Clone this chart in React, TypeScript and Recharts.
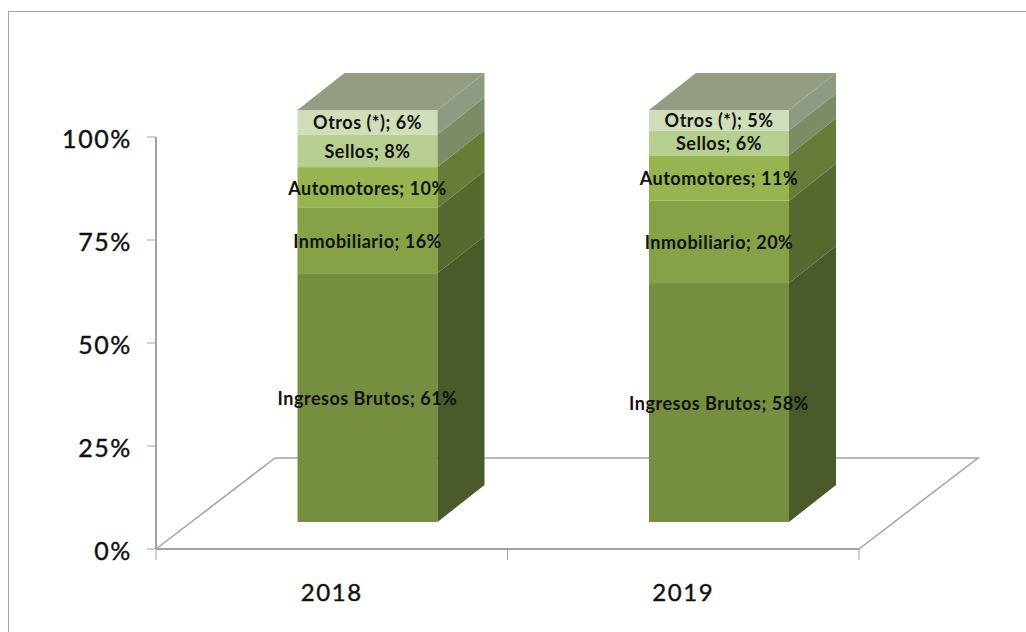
import React from 'react';
import { BarChart, Bar, XAxis, YAxis, LabelList, usePlotArea } from 'recharts';

const years = ['2018', '2019'];
const ingresos = [61, 58];
const inmobiliario = [16, 20];
const automotores = [10, 11];
const sellos = [8, 6];
const otros = [6, 5];
const yTicks = [0, 0.25, 0.5, 0.75, 1];

const data = years.map((year, i) => ({
  year,
  ingresos: ingresos[i],
  inmobiliario: inmobiliario[i],
  automotores: automotores[i],
  sellos: sellos[i],
  otros: otros[i],
}));

const series = [
  { key: 'ingresos', name: 'Ingresos Brutos', values: ingresos, front: '#768e40', side: '#4a5a2a' },
  { key: 'inmobiliario', name: 'Inmobiliario', values: inmobiliario, front: '#86a146', side: '#566a2f' },
  { key: 'automotores', name: 'Automotores', values: automotores, front: '#97b450', side: '#667c38' },
  { key: 'sellos', name: 'Sellos', values: sellos, front: '#b8cd90', side: '#7d8b66' },
  { key: 'otros', name: 'Otros (*)', values: otros, front: '#cfdeb8', side: '#8f9a82' },
];

const AXIS = '#a3a3a3';
const FONT = 'Lato, sans-serif';
// the bars stand inside the 3D floor, not on the front edge
const SHIFT_X = 35.5;
const SHIFT_Y = -27;
const DEPTH_X = 47;
const DEPTH_Y = -37;
const FLOOR_X = 119;
const FLOOR_Y = -91;

const Segment = (props: any) => {
  const { x, y, width, height, fill, side, isTop } = props;
  const fx = x + SHIFT_X;
  const fy = y + SHIFT_Y;
  const right = fx + width;
  const bottom = fy + height;
  return (
    <g>
      <rect x={fx} y={fy} width={width} height={height} fill={fill} />
      <polygon
        points={`${right},${fy} ${right + DEPTH_X},${fy + DEPTH_Y} ${right + DEPTH_X},${bottom + DEPTH_Y} ${right},${bottom}`}
        fill={side}
      />
      {isTop && (
        <polygon
          points={`${fx},${fy} ${fx + DEPTH_X},${fy + DEPTH_Y} ${right + DEPTH_X},${fy + DEPTH_Y} ${right},${fy}`}
          fill="#949c82"
        />
      )}
    </g>
  );
};

const Floor = () => {
  const plot = usePlotArea();
  if (!plot) return null;
  const left = plot.x;
  const base = plot.y + plot.height;
  const right = left + plot.width;
  const step = plot.width / years.length;
  const marks = [0, 1, 2].map((i) => left + i * step);
  return (
    <g stroke={AXIS} fill="none">
      <polyline
        strokeWidth={1.5}
        points={`${left},${base} ${left + FLOOR_X},${base + FLOOR_Y} ${right + FLOOR_X},${base + FLOOR_Y} ${right},${base}`}
      />
      <line x1={left} y1={base} x2={right} y2={base} strokeWidth={2} />
      {marks.map((mx) => (
        <line key={mx} x1={mx} y1={base} x2={mx} y2={base + 11} strokeWidth={1} />
      ))}
    </g>
  );
};

const segmentLabel = (values: number[], name: string) => (props: any) => {
  const { x, y, width, height, index } = props;
  return (
    <text
      x={x + SHIFT_X + width / 2}
      y={y + SHIFT_Y + height / 2}
      textAnchor="middle"
      dominantBaseline="central"
      fontFamily={FONT}
      fontWeight={700}
      fontSize={18}
      letterSpacing={0.5}
      fill="#111"
    >
      {`${name}; ${values[index]}%`}
    </text>
  );
};

export default function App() {
  return (
    <div style={{ position: 'absolute', left: 0, top: 0, width: 1026, height: 632, background: '#fff', overflow: 'hidden' }}>
      {/* frame runs off the right and bottom of the picture */}
      <div
        style={{
          position: 'absolute',
          left: 8,
          top: 11,
          width: 1100,
          height: 700,
          border: '1.5px solid #a6a6a6',
          boxSizing: 'border-box',
        }}
      />
      <BarChart
        width={1026}
        height={632}
        data={data}
        stackOffset="expand"
        barSize={140}
        margin={{ top: 137, right: 167, bottom: 53, left: 0 }}
        style={{ position: 'absolute', left: 0, top: 0 }}
      >
        <XAxis
          dataKey="year"
          axisLine={false}
          tickLine={false}
          tickMargin={29}
          tick={{ fill: '#111', stroke: '#111', strokeWidth: 0.4, fontSize: 24, letterSpacing: 1.6, fontFamily: FONT }}
        />
        <YAxis
          width={156}
          domain={[0, 1]}
          ticks={yTicks}
          tickFormatter={(v: number) => `${v * 100}%`}
          axisLine={{ stroke: AXIS, strokeWidth: 2 }}
          tickLine={{ stroke: AXIS }}
          tickSize={9}
          tickMargin={15}
          tick={{ fill: '#111', stroke: '#111', strokeWidth: 0.4, fontSize: 25, letterSpacing: 1.6, fontFamily: FONT, dy: 2 }}
        />
        <Floor />
        {series.map((s, i) => (
          <Bar
            key={s.key}
            dataKey={s.key}
            stackId="total"
            fill={s.front}
            isAnimationActive={false}
            shape={(p: any) => <Segment {...p} fill={s.front} side={s.side} isTop={i === series.length - 1} />}
          >
            <LabelList content={segmentLabel(s.values, s.name)} />
          </Bar>
        ))}
      </BarChart>
    </div>
  );
}
